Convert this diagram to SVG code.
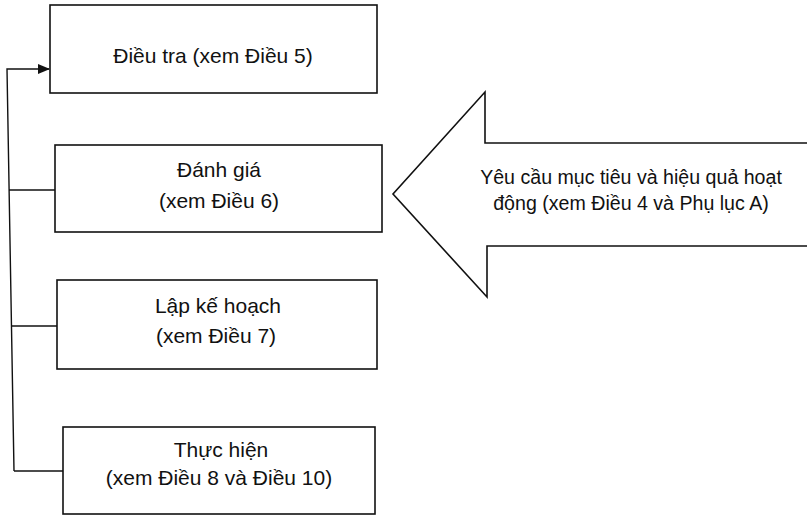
<svg xmlns="http://www.w3.org/2000/svg" width="807" height="516" viewBox="0 0 807 516">
<style>
.box{fill:#fff;stroke:#111;stroke-width:1.6}
.t{font-family:"Liberation Sans",Arial,sans-serif;font-size:21px;fill:#111;text-anchor:middle}
.a{font-size:19.6px}
.c{fill:none;stroke:#111;stroke-width:1.4}
</style>
<defs>
<marker id="ah" markerWidth="12" markerHeight="10" refX="11" refY="5" orient="auto" markerUnits="userSpaceOnUse">
<path d="M0,0 L12,5 L0,10 Z" fill="#111"/>
</marker>
</defs>
<rect width="807" height="516" fill="#fff"/>
<g id="connectors">
<path class="c" d="M14,471 L7,69 L49,69" marker-end="url(#ah)"/>
<path class="c" d="M9,190 L55,190"/>
<path class="c" d="M12,326 L57,326"/>
<path class="c" d="M14,471 L63,471"/>
</g>
<g id="n1">
<rect class="box" x="50" y="5" width="327" height="88"/>
<text class="t" x="213" y="63">Điều tra (xem Điều 5)</text>
</g>
<g id="n2">
<rect class="box" x="55" y="145" width="327" height="87"/>
<text class="t" x="219" y="177">Đánh giá</text>
<text class="t" x="219" y="208">(xem Điều 6)</text>
</g>
<g id="n3">
<rect class="box" x="57" y="280" width="320" height="89"/>
<text class="t" x="218" y="313">Lập kế hoạch</text>
<text class="t" x="216" y="343">(xem Điều 7)</text>
</g>
<g id="n4">
<rect class="box" x="63" y="427" width="312" height="87"/>
<text class="t" x="221" y="457">Thực hiện</text>
<text class="t" x="219" y="485">(xem Điều 8 và Điều 10)</text>
</g>
<g id="bigarrow">
<path class="box" d="M808,143 L485,143 L485,92 L393,194 L487,297 L487,246 L808,246"/>
<text class="t a" x="631" y="184">Yêu cầu mục tiêu và hiệu quả hoạt</text>
<text class="t a" x="631" y="210">động (xem Điều 4 và Phụ lục A)</text>
</g>
</svg>
